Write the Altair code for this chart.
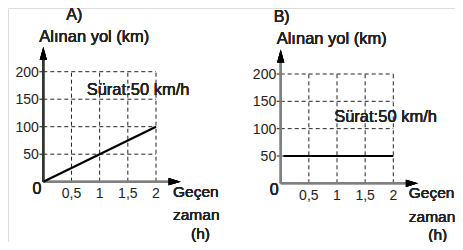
import altair as alt
import pandas as pd

# ---- data ----
x_ticks = [0.5, 1, 1.5, 2]
x_tick_labels = ["0,5", "1", "1,5", "2"]
y_ticks = [50, 100, 150, 200]
y_tick_labels = ["50", "100", "150", "200"]

time_A = [0, 2]
dist_A = [0, 100]
time_B = [0.05, 2]
dist_B = [50, 50]

note_text = "Sürat:50 km/h"
y_title = "Alınan yol (km)"
x_title = ["Geçen", "zaman", "(h)"]

FONT = "Liberation Sans"
TXT = "#222222"


def panel(tag, tx, ty, xrange, yrange, note_xy, tag_dx, xt_dx, yaxis_color):
    xs = alt.Scale(domain=[0, 2], range=xrange, nice=False, zero=False)
    ys = alt.Scale(domain=[0, 200], range=yrange, nice=False, zero=False)

    def X(v):
        return alt.XDatum(v, scale=xs, axis=None)

    def Y(v):
        return alt.YDatum(v, scale=ys, axis=None)

    xf = lambda f: alt.X(f, type="quantitative", scale=xs, axis=None)
    yf = lambda f: alt.Y(f, type="quantitative", scale=ys, axis=None)

    xt = pd.DataFrame({"x": x_ticks, "lab": x_tick_labels})
    yt = pd.DataFrame({"y": y_ticks, "lab": y_tick_labels})
    line = pd.DataFrame({"t": tx, "d": ty})
    xmax, ymax = max(x_ticks), max(y_ticks)

    vgrid = alt.Chart(xt).mark_rule(color="#222", strokeWidth=1, strokeDash=[4, 3]).encode(
        x=xf("x"), y=Y(0), y2=alt.Y2Datum(ymax))
    hgrid = alt.Chart(yt).mark_rule(color="#222", strokeWidth=1, strokeDash=[4, 3]).encode(
        x=X(0), x2=alt.X2Datum(xmax), y=yf("y"))
    yticks = alt.Chart(yt).mark_rule(color="#333", strokeWidth=1.2).encode(
        x=X(-0.07), x2=alt.X2Datum(0), y=yf("y"))
    yaxis = alt.Chart(yt).mark_rule(color=yaxis_color, strokeWidth=2).encode(
        x=X(0), y=Y(0), y2=alt.Y2Datum(230))
    xaxis = alt.Chart(yt).mark_rule(color="#808080", strokeWidth=2).encode(
        x=X(0), x2=alt.X2Datum(2.33), y=Y(0))
    yarrow = alt.Chart(yt).mark_point(
        shape="M0,-1L0.55,1L-0.55,1Z", size=169, filled=True, opacity=1, color="black"
    ).encode(x=X(0), y=Y(233))
    xarrow = alt.Chart(yt).mark_point(
        shape="M1,0L-1,0.6L-1,-0.6Z", size=144, filled=True, opacity=1, color="black"
    ).encode(x=X(2.33), y=Y(0))
    ln = alt.Chart(line).mark_line(color="black", strokeWidth=2.2).encode(
        x=xf("t"), y=yf("d"))

    ylab = alt.Chart(yt).mark_text(font=FONT, fontSize=14, color=TXT,
                                   align="right", baseline="alphabetic", dx=-4.5, dy=5).encode(
        x=X(0), y=yf("y"), text="lab:N")
    xlab = alt.Chart(xt).mark_text(font=FONT, fontSize=14, color=TXT,
                                   align="center", baseline="alphabetic", dy=16.5).encode(
        x=xf("x"), y=Y(0), text="lab:N")
    zero = alt.Chart(yt).mark_text(font=FONT, fontSize=16, color=TXT,
                                   align="right", baseline="alphabetic", dx=-2, dy=12,
                                   text="0").encode(x=X(0), y=Y(0))

    def txt(s, xv, yv, dx, dy, align, size=16):
        return alt.Chart(yt).mark_text(font=FONT, fontSize=size, color=TXT,
                                       align=align, baseline="alphabetic", dx=dx, dy=dy,
                                       text=s).encode(x=X(xv), y=Y(yv))

    t1 = txt(x_title[0], 2, 0, xt_dx, 15, "left", 15.5)
    t2 = txt(x_title[1], 2, 0, xt_dx, 38.3, "left", 15.5)
    t3 = txt(x_title[2], 2, 0, 44.5, 57, "center", 15.5)
    yt_ = txt(y_title, 0, 200, -4, -30, "left", 16.5)
    tg = txt(tag, 0, 200, tag_dx, -52, "center", 16)
    nt = txt(note_text, note_xy[0], note_xy[1], 0, 0, "left", 16.5)

    return alt.layer(vgrid, hgrid, yticks, yaxis, xaxis, yarrow, xarrow, ln,
                     ylab, xlab, zero, t1, t2, t3, yt_, tg, nt)


pA = panel("A)", time_A, dist_A, [35.3, 148.0], [173.7, 63.7], (0.77, 157.6), 31, 17, "#333")
pB = panel("B)", time_B, dist_B, [272.7, 385.3], [175.3, 66.0], (0.95, 112.7), 1, 15.5, "#808080")

chart = alt.layer(pA, pB).resolve_scale(x="independent", y="independent").properties(
    width=447, height=234,
    autosize=alt.AutoSizeParams(type="none"),
    padding=0,
).configure_view(stroke=None).configure(background="white")

chart.save("out.html", embed_options={"renderer": "svg", "actions": False})
